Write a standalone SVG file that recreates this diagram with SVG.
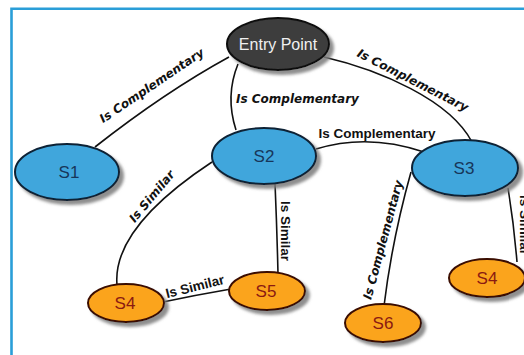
<svg xmlns="http://www.w3.org/2000/svg" width="524" height="355" viewBox="0 0 524 355">
<defs>
<filter id="sh" x="-20%" y="-20%" width="150%" height="160%">
<feDropShadow dx="4" dy="4" stdDeviation="1.5" flood-color="#7a7a7a" flood-opacity="0.85"/>
</filter>
<style>
.edge{fill:none;stroke:#111;stroke-width:1.6}
.li{font-family:"DejaVu Sans",Verdana,sans-serif;font-weight:bold;font-style:italic;font-size:12px;fill:#111}
.lu{font-family:"Liberation Sans",Arial,sans-serif;font-weight:bold;font-size:13.5px;fill:#111}
.blue{fill:#3fa6dc;stroke:#0e2236;stroke-width:2;filter:url(#sh)}
.orange{fill:#fba41c;stroke:#3a0d06;stroke-width:2;filter:url(#sh)}
.dark{fill:#3c3c3c;stroke:#111;stroke-width:2;filter:url(#sh)}
.tb{font-family:"Liberation Sans",Arial,sans-serif;font-size:17px;fill:#17365a;text-anchor:middle}
.to{font-family:"Liberation Sans",Arial,sans-serif;font-size:17px;fill:#8a1a12;text-anchor:middle}
.te{font-family:"Liberation Sans",Arial,sans-serif;font-size:16px;fill:#f0f0f0;text-anchor:middle}
</style>
</defs>
<rect width="524" height="355" fill="#ffffff"/>
<path d="M11.5 355 V8.8 H524" fill="none" stroke="#2a9ed8" stroke-width="2.6"/>

<g id="connectors">
<g id="e-entry-s1">
<path class="edge" d="M229,57 Q165,92 95,147"/>
<text class="li" text-anchor="middle" transform="translate(154,89) rotate(-34)">Is Complementary</text>
</g>
<g id="e-entry-s2">
<path class="edge" d="M238,64 Q225,96 236,130"/>
<text class="li" x="236" y="103">Is Complementary</text>
</g>
<g id="e-entry-s3">
<path class="edge" d="M324,57 C380,70 450,100 472,142"/>
<text class="li" text-anchor="middle" transform="translate(411,84) rotate(27)">Is Complementary</text>
</g>
<g id="e-s2-s3">
<path class="edge" d="M316,149 Q368,133 424,152"/>
<text class="lu" x="377" y="138" text-anchor="middle">Is Complementary</text>
</g>
<g id="e-s2-s4">
<path class="edge" d="M212,162 Q112,228 117,285"/>
<text class="li" text-anchor="middle" transform="translate(155,199) rotate(-50)">Is Similar</text>
</g>
<g id="e-s4-s5">
<path class="edge" d="M163,302 Q196,295 231,289"/>
<text class="lu" text-anchor="middle" transform="translate(196,291) rotate(-14)">Is Similar</text>
</g>
<g id="e-s2-s5">
<path class="edge" d="M275,183 Q277,230 278,274"/>
<text class="lu" text-anchor="middle" transform="translate(281,231) rotate(90)">Is Similar</text>
</g>
<g id="e-s3-s6">
<path class="edge" d="M411,172 Q392,240 384,306"/>
<text class="li" text-anchor="middle" transform="translate(387,241) rotate(-75)">Is Complementary</text>
</g>
<g id="e-s3-s4b">
<path class="edge" d="M508,188 Q514,225 517,262"/>
<text class="lu" text-anchor="middle" transform="translate(520,225) rotate(90)">Is Similar</text>
</g>
</g>

<g id="entry">
<ellipse class="dark" cx="278" cy="44" rx="51" ry="26"/>
<text class="te" x="278" y="50">Entry Point</text>
</g>
<g id="s1">
<ellipse class="blue" cx="67" cy="172" rx="52" ry="28"/>
<text class="tb" x="69" y="178">S1</text>
</g>
<g id="s2">
<ellipse class="blue" cx="264" cy="156" rx="52" ry="28"/>
<text class="tb" x="264" y="162">S2</text>
</g>
<g id="s3">
<ellipse class="blue" cx="465" cy="168" rx="53" ry="28"/>
<text class="tb" x="464" y="174">S3</text>
</g>
<g id="s4">
<ellipse class="orange" cx="126" cy="303" rx="38" ry="19"/>
<text class="to" x="125" y="309">S4</text>
</g>
<g id="s5">
<ellipse class="orange" cx="267" cy="291" rx="38" ry="19"/>
<text class="to" x="266" y="297">S5</text>
</g>
<g id="s6">
<ellipse class="orange" cx="383" cy="323" rx="38" ry="19"/>
<text class="to" x="383" y="329">S6</text>
</g>
<g id="s4b">
<ellipse class="orange" cx="487" cy="278" rx="38" ry="19"/>
<text class="to" x="487" y="284">S4</text>
</g>
</svg>
